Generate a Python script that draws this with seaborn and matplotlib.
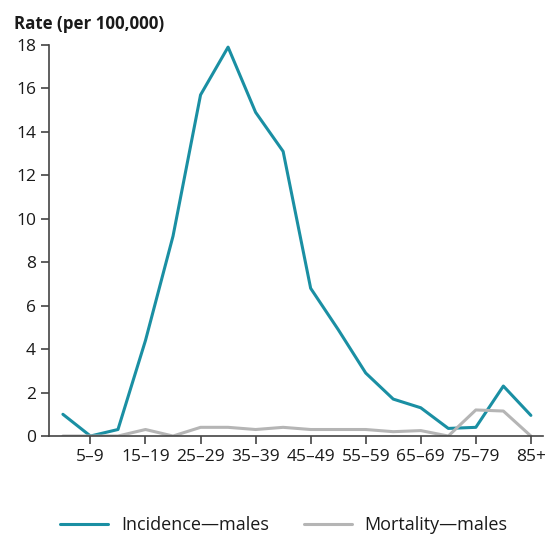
import numpy as np
import pandas as pd
import matplotlib.pyplot as plt
import seaborn as sns

# ── Data ─────────────────────────────────────────────────────────────────────
age_groups = ["0–4", "5–9", "10–14", "15–19", "20–24", "25–29", "30–34", "35–39",
              "40–44", "45–49", "50–54", "55–59", "60–64", "65–69", "70–74",
              "75–79", "80–84", "85+"]
incidence_males = [1.0, 0.0, 0.3, 4.4, 9.2, 15.7, 17.9, 14.9, 13.1, 6.8,
                   4.9, 2.9, 1.7, 1.3, 0.35, 0.4, 2.3, 0.95]
mortality_males = [0.0, 0.0, 0.0, 0.3, 0.0, 0.4, 0.4, 0.3, 0.4, 0.3,
                   0.3, 0.3, 0.2, 0.25, 0.0, 1.2, 1.15, 0.0]

df = pd.DataFrame({
    "pos": list(range(len(age_groups))) * 2,
    "rate": incidence_males + mortality_males,
    "series": ["Incidence—males"] * len(age_groups) + ["Mortality—males"] * len(age_groups),
})

# ── Plot ─────────────────────────────────────────────────────────────────────
sns.set_style("white")
plt.rcParams["font.family"] = ["Open Sans", "DejaVu Sans"]

fig = plt.figure(figsize=(5.46, 5.35), dpi=100)
ax = fig.add_axes([0.09, 0.185, 0.905, 0.731])

sns.lineplot(data=df, x="pos", y="rate", hue="series",
             palette={"Incidence—males": "#1a8fa3", "Mortality—males": "#b5b5b5"},
             linewidth=2.2, ax=ax)

ax.set_xlim(-0.5, 17.45)
ax.set_ylim(0, 18)
ax.set_yticks(range(0, 19, 2))
ax.set_xticks(range(1, len(age_groups), 2))
ax.set_xticklabels(age_groups[1::2])
ax.tick_params(axis="both", labelsize=12.5, length=6, width=1.2,
               color="#444444", labelcolor="#1a1a1a", direction="out",
               bottom=True, left=True)
ax.set_xlabel("")
ax.set_ylabel("")
for s in ["top", "right"]:
    ax.spines[s].set_visible(False)
for s in ["left", "bottom"]:
    ax.spines[s].set_color("#444444")
    ax.spines[s].set_linewidth(1.2)

fig.text(0.025, 0.955, "Rate (per 100,000)", fontsize=12.2, fontweight="bold",
         ha="left", va="center", color="#1a1a1a")

handles, labels = ax.get_legend_handles_labels()
leg = ax.legend(handles, labels, loc="center", bbox_to_anchor=(0.475, -0.228),
                ncol=2, frameon=False, fontsize=13, handlelength=2.65,
                columnspacing=1.95, handletextpad=0.72)
for t in leg.get_texts():
    t.set_color("#1a1a1a")

fig.savefig("out.png", dpi=100)
